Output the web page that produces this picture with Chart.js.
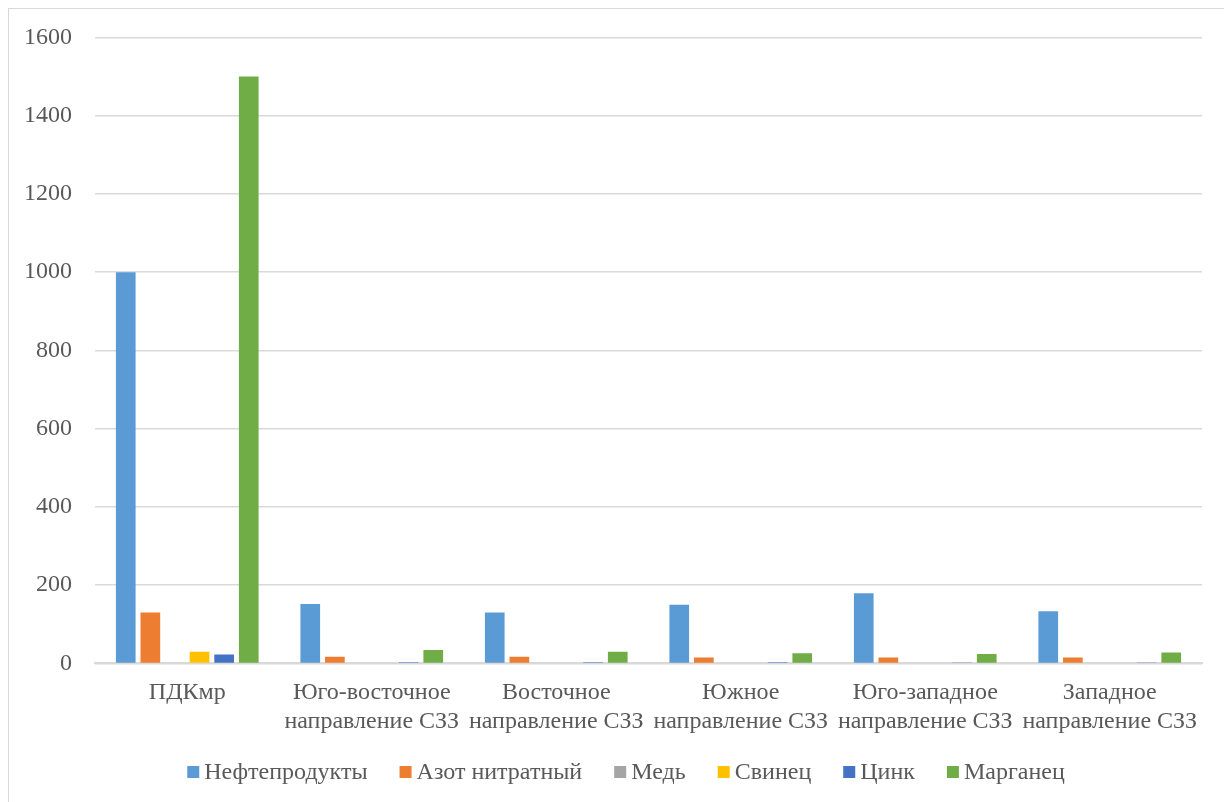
<!DOCTYPE html>
<html>
<head>
<meta charset="utf-8">
<script src="https://cdn.jsdelivr.net/npm/chart.js@4"></script>
<style>
  html, body { margin: 0; padding: 0; background: #fff; overflow: hidden; }
  #wrap { position: relative; width: 1224px; height: 802px; }
  #frame { position: absolute; left: 8px; top: 8px; width: 1300px; height: 900px;
           border: 1px solid #d9d9d9; box-sizing: border-box; pointer-events: none; }
  canvas { position: absolute; left: 0; top: 0; }
</style>
</head>
<body>
<div id="wrap">
  <canvas id="c" width="1224" height="802"></canvas>
  <div id="frame"></div>
</div>
<script>
// Концентрации загрязняющих веществ по направлениям от предприятия
const categories = [
  'ПДКмр',
  ['Юго-восточное', 'направление СЗЗ'],
  ['Восточное', 'направление СЗЗ'],
  ['Южное', 'направление СЗЗ'],
  ['Юго-западное', 'направление СЗЗ'],
  ['Западное', 'направление СЗЗ']
];
const neftprodukty = [1000, 152, 130, 150, 179, 133];
const azotNitratny = [130, 17, 17, 15, 15, 15];
const med          = [0, 0, 0, 0, 0, 0];
const svinec       = [30, 0, 0, 0, 0, 0];
const cink         = [23, 3, 3, 3, 2, 2];
const marganec     = [1500, 34, 30, 26, 24, 28];
const yTicks = [0, 200, 400, 600, 800, 1000, 1200, 1400, 1600];

const serif = '"Liberation Serif", "Times New Roman", serif';
const font = { family: serif, size: 24, lineHeight: 1.2 };
const textColor = '#595959';

const mk = (label, data, color) => ({
  label, data, backgroundColor: color, borderColor: color, borderWidth: 0,
  categoryPercentage: 0.8, barPercentage: 0.8
});

// Легенда внизу: квадрат 12 px, затем подпись, всё по центру
const bottomLegend = {
  id: 'bottomLegend',
  afterDraw(chart) {
    const ctx = chart.ctx;
    const items = chart.data.datasets.map(ds => ds.label);
    const colors = chart.data.datasets.map(ds => ds.backgroundColor);
    const box = 12, gapText = 5, gapItem = 32, cy = 772;
    ctx.save();
    ctx.font = '24px ' + serif;
    ctx.textBaseline = 'middle';
    const widths = items.map(t => ctx.measureText(t).width);
    const total = widths.reduce((a, w) => a + box + gapText + w, 0) + gapItem * (items.length - 1);
    let x = 626 - total / 2;
    items.forEach((t, i) => {
      ctx.fillStyle = colors[i];
      ctx.fillRect(x, cy - box / 2, box, box);
      x += box + gapText;
      ctx.fillStyle = textColor;
      ctx.fillText(t, x, cy + 1);
      x += widths[i] + gapItem;
    });
    ctx.restore();
  }
};

new Chart(document.getElementById('c'), {
  type: 'bar',
  data: {
    labels: categories,
    datasets: [
      mk('Нефтепродукты', neftprodukty, '#5b9bd5'),
      mk('Азот нитратный', azotNitratny, '#ed7d31'),
      mk('Медь', med, '#a5a5a5'),
      mk('Свинец', svinec, '#ffc000'),
      mk('Цинк', cink, '#4472c4'),
      mk('Марганец', marganec, '#70ad47')
    ]
  },
  plugins: [bottomLegend],
  options: {
    responsive: false,
    animation: false,
    layout: { padding: { left: 0, right: 22, top: 27, bottom: 51 } },
    plugins: {
      tooltip: { enabled: false },
      legend: { display: false }
    },
    scales: {
      x: {
        grid: { display: false, drawTicks: false },
        border: { display: true, color: '#d9d9d9', width: 2 },
        ticks: { color: textColor, font, padding: 15, maxRotation: 0, autoSkip: false }
      },
      y: {
        min: 0, max: 1600,
        afterFit: (s) => { s.width = 95; },
        afterBuildTicks: (s) => { s.ticks = yTicks.map(v => ({ value: v })); },
        grid: { color: '#d9d9d9', lineWidth: 1.5, drawTicks: false },
        border: { display: false },
        ticks: { color: textColor, font, padding: 23, callback: (v) => String(v) }
      }
    }
  }
});
</script>
</body>
</html>
